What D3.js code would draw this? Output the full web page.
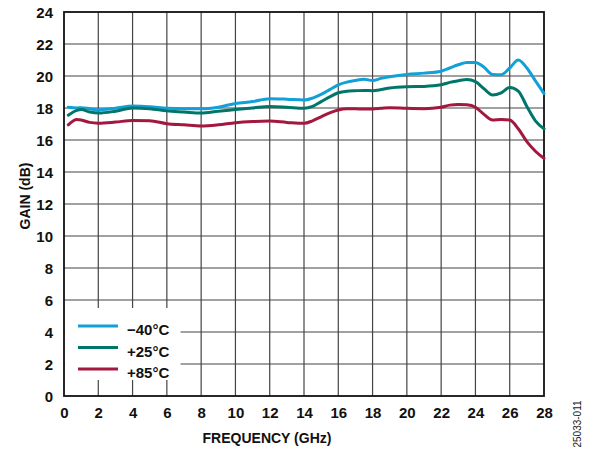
<!DOCTYPE html>
<html>
<head>
<meta charset="utf-8">
<script src="https://cdn.jsdelivr.net/npm/d3@7"></script>
<style>
html,body{margin:0;padding:0;background:#fff;}
svg{display:block;}
text{font-family:"Liberation Sans",Arial,sans-serif;}
</style>
</head>
<body>
<svg id="chart" width="597" height="451"></svg>
<script>
const freq = [0.25,0.75,1,1.5,2,3,4,5,6,7,8,9,10,11,12,13,14,14.5,15,15.5,16,16.5,17,17.5,18,18.5,19,20,21,22,22.5,23,23.5,24,24.5,25,25.5,26,26.5,27,27.5,28];
const gainM40 = [18.05,18.0,18.02,17.95,17.88,17.98,18.12,18.08,17.98,17.95,17.95,18.05,18.28,18.4,18.58,18.55,18.5,18.62,18.85,19.15,19.45,19.62,19.72,19.8,19.72,19.85,19.95,20.1,20.18,20.3,20.5,20.7,20.85,20.85,20.55,20.1,20.08,20.5,21.0,20.5,19.7,18.9];
const gainP25 = [17.55,17.85,17.9,17.75,17.68,17.8,18.0,17.95,17.82,17.75,17.68,17.8,17.9,18.0,18.1,18.05,17.98,18.1,18.4,18.7,18.95,19.05,19.08,19.1,19.08,19.15,19.25,19.33,19.35,19.45,19.6,19.7,19.78,19.65,19.2,18.82,18.95,19.28,19.05,18.1,17.2,16.7];
const gainP85 = [16.95,17.28,17.25,17.1,17.05,17.12,17.22,17.2,17.02,16.95,16.88,16.95,17.08,17.15,17.18,17.1,17.04,17.2,17.45,17.7,17.88,17.95,17.95,17.93,17.94,17.98,18.02,17.98,17.96,18.05,18.18,18.22,18.2,18.05,17.6,17.25,17.28,17.25,16.7,15.9,15.3,14.85];
const seriesNames = ["\u221240\u00B0C","+25\u00B0C","+85\u00B0C"];
const seriesColors = ["#12a0d8","#00766a","#a3183f"];
const xTicks = [0,2,4,6,8,10,12,14,16,18,20,22,24,26,28];
const yTicks = [0,2,4,6,8,10,12,14,16,18,20,22,24];
const xTitle = "FREQUENCY (GHz)";
const yTitle = "GAIN (dB)";
const figId = "25033-011";

const svg = d3.select("#chart");
const L = 64, R = 544, T = 12, B = 396;
const x = d3.scaleLinear().domain([0,28]).range([L,R]);
const y = d3.scaleLinear().domain([0,24]).range([B,T]);

// grid
const grid = svg.append("g");
grid.selectAll("line.v").data(xTicks.slice(1,-1)).enter().append("line")
  .attr("x1",d=>x(d)).attr("x2",d=>x(d)).attr("y1",T).attr("y2",B)
  .attr("stroke","#444").attr("stroke-width",1.2);
grid.selectAll("line.h").data(yTicks.slice(1,-1)).enter().append("line")
  .attr("x1",L).attr("x2",R).attr("y1",d=>y(d)).attr("y2",d=>y(d))
  .attr("stroke","#444").attr("stroke-width",1.2);

// legend background
svg.append("rect").attr("x",L+1).attr("y",y(5.5)).attr("width",x(6.8)-L-1).attr("height",y(1)-y(5.5)).attr("fill","#fff");

// axes
const xAxis = d3.axisBottom(x).tickValues(xTicks).tickSize(0).tickPadding(11).tickFormat(d3.format("d"));
const yAxis = d3.axisLeft(y).tickValues(yTicks).tickSize(0).tickPadding(11).tickFormat(d3.format("d"));
const gx = svg.append("g").attr("transform",`translate(0,${B})`).call(xAxis);
const gy = svg.append("g").attr("transform",`translate(${L},0)`).call(yAxis);
[gx,gy].forEach(g=>{
  g.select(".domain").remove();
  g.selectAll("text").attr("font-size",15).attr("font-weight","bold").attr("fill","#111")
   .attr("font-family","'Liberation Sans',Arial,sans-serif");
});
gy.selectAll("text").attr("dy","0.36em");

// frame
svg.append("rect").attr("x",L).attr("y",T).attr("width",R-L).attr("height",B-T)
  .attr("fill","none").attr("stroke","#111").attr("stroke-width",1.8);

// lines
const allSeries = [gainM40,gainP25,gainP85];
const line = d3.line().x(d=>x(d[0])).y(d=>y(d[1])).curve(d3.curveMonotoneX);
allSeries.forEach((s,i)=>{
  svg.append("path").datum(freq.map((f,j)=>[f,s[j]]))
    .attr("d",line).attr("fill","none").attr("stroke",seriesColors[i])
    .attr("stroke-width",3).attr("stroke-linejoin","round").attr("stroke-linecap","round");
});

// legend
seriesNames.forEach((n,i)=>{
  const yy = 326 + i*21.5;
  svg.append("line").attr("x1",78).attr("x2",118).attr("y1",yy).attr("y2",yy)
    .attr("stroke",seriesColors[i]).attr("stroke-width",3);
  svg.append("text").attr("x",127).attr("y",yy+9).text(n)
    .attr("font-size",15).attr("font-weight","bold").attr("fill","#111");
});

// titles
svg.append("text").attr("x",(L+R)/2-37).attr("y",443).attr("text-anchor","middle")
  .attr("font-size",14).attr("font-weight","bold").attr("fill","#111").text(xTitle);
svg.append("text").attr("transform",`translate(30,196) rotate(-90)`).attr("text-anchor","middle")
  .attr("font-size",14).attr("font-weight","bold").attr("fill","#111").text(yTitle);
svg.append("text").attr("transform",`translate(581,424) rotate(-90)`).attr("text-anchor","middle")
  .attr("font-size",10).attr("fill","#222").text(figId);
</script>
</body>
</html>
